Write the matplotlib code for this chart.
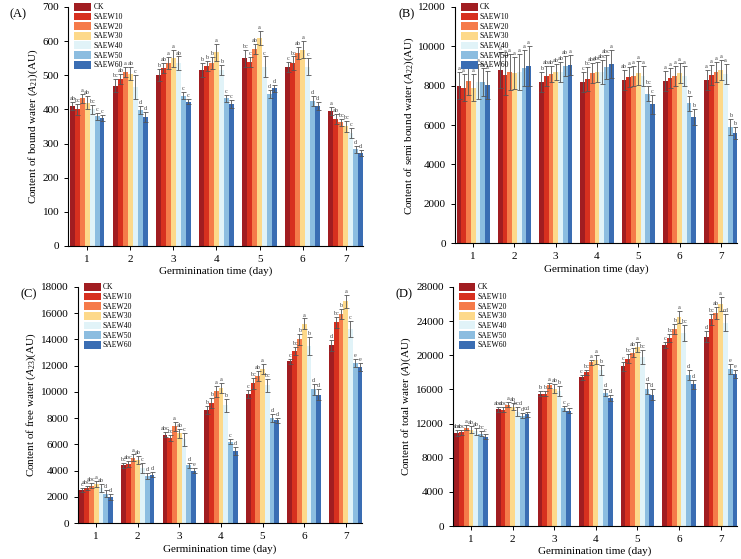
import numpy as np
import matplotlib.pyplot as plt

plt.rcParams['font.family'] = ['Liberation Serif', 'DejaVu Serif']
plt.rcParams['mathtext.fontset'] = 'custom'
plt.rcParams['mathtext.it'] = 'Liberation Serif:italic'
plt.rcParams['mathtext.rm'] = 'Liberation Serif'

days = ['1', '2', '3', '4', '5', '6', '7']
treatments = ['CK', 'SAEW10', 'SAEW20', 'SAEW30', 'SAEW40', 'SAEW50', 'SAEW60']
colors = ['#a11d21', '#d7301f', '#f57b4a', '#fdd98a', '#e1f3f8', '#8cbde0', '#3a6db3']

# rows = day, columns = treatment
bound = [[410, 400, 432, 420, 400, 380, 375],
         [470, 490, 510, 505, 465, 398, 378],
         [500, 522, 535, 550, 535, 440, 423],
         [515, 527, 535, 568, 515, 432, 415],
         [550, 538, 578, 610, 525, 445, 462],
         [525, 535, 565, 575, 525, 425, 410],
         [395, 373, 362, 350, 330, 283, 272]]
bound_err = [[12, 15, 12, 20, 12, 10, 8],
             [18, 15, 15, 20, 35, 12, 15],
             [18, 15, 18, 25, 20, 10, 8],
             [20, 15, 18, 25, 15, 10, 12],
             [25, 15, 15, 20, 30, 12, 10],
             [15, 20, 18, 25, 25, 15, 12],
             [12, 15, 10, 15, 15, 10, 8]]
bound_let = [['ab', 'bc', 'a', 'ab', 'bc', 'c', 'c'],
             ['bc', 'ab', 'a', 'ab', 'c', 'd', 'd'],
             ['b', 'ab', 'a', 'a', 'ab', 'c', 'c'],
             ['b', 'b', 'b', 'a', 'b', 'c', 'c'],
             ['bc', 'c', 'ab', 'a', 'c', 'd', 'd'],
             ['c', 'bc', 'ab', 'a', 'c', 'd', 'd'],
             ['a', 'ab', 'bc', 'bc', 'c', 'd', 'd']]

semi = [[8000, 7900, 8250, 7900, 8200, 8200, 8050],
        [8800, 8550, 8700, 8650, 8700, 8900, 9000],
        [8200, 8500, 8600, 8700, 8700, 9000, 9050],
        [8200, 8350, 8650, 8700, 8700, 8950, 9100],
        [8300, 8450, 8500, 8650, 8500, 7600, 7050],
        [8250, 8400, 8500, 8650, 8500, 7100, 6400],
        [8300, 8550, 8700, 8800, 8600, 5900, 5600]]
semi_err = [[700, 700, 700, 700, 900, 700, 700],
            [900, 1000, 900, 800, 900, 900, 1000],
            [500, 500, 400, 400, 500, 500, 500],
            [500, 600, 500, 500, 600, 600, 700],
            [500, 500, 500, 600, 500, 400, 500],
            [500, 500, 500, 500, 500, 400, 400],
            [500, 500, 500, 500, 500, 400, 300]]
semi_let = [['a', 'a', 'a', 'a', 'a', 'a', 'a'],
            ['a', 'a', 'a', 'a', 'a', 'a', 'a'],
            ['b', 'ab', 'ab', 'ab', 'ab', 'ab', 'a'],
            ['c', 'bc', 'abc', 'abc', 'abc', 'abc', 'a'],
            ['ab', 'a', 'a', 'a', 'a', 'bc', 'c'],
            ['a', 'a', 'a', 'a', 'a', 'b', 'b'],
            ['a', 'a', 'a', 'a', 'a', 'b', 'b']]

free = [[2550, 2700, 2850, 3000, 2700, 2250, 2000],
        [4400, 4500, 5000, 4800, 4200, 3600, 3700],
        [6750, 6500, 7400, 6850, 6400, 4400, 4000],
        [8650, 9150, 10050, 10300, 9000, 6200, 5500],
        [9850, 10650, 11200, 11750, 10500, 8050, 7850],
        [12350, 13100, 14000, 15200, 13500, 10200, 9800],
        [13550, 15300, 15950, 16900, 14800, 12200, 11900]]
free_err = [[150, 150, 200, 250, 300, 250, 200],
            [200, 250, 250, 300, 400, 200, 200],
            [200, 250, 350, 350, 500, 200, 200],
            [300, 400, 400, 400, 500, 200, 300],
            [300, 400, 400, 400, 500, 300, 200],
            [200, 300, 400, 400, 700, 400, 400],
            [400, 400, 400, 500, 600, 300, 300]]
free_let = [['c', 'abc', 'abc', 'a', 'ab', 'd', 'd'],
            ['bc', 'abc', 'a', 'ab', 'c', 'd', 'd'],
            ['abc', 'bc', 'a', 'ab', 'c', 'd', 'e'],
            ['b', 'b', 'a', 'a', 'b', 'c', 'd'],
            ['c', 'bc', 'ab', 'a', 'bc', 'd', 'd'],
            ['c', 'bc', 'b', 'a', 'b', 'd', 'd'],
            ['d', 'bc', 'b', 'a', 'c', 'e', 'e']]

total = [[10900, 11000, 11500, 11300, 11100, 10800, 10450],
         [13700, 13600, 14200, 14000, 13400, 12900, 13100],
         [15500, 15500, 16500, 16100, 15800, 13800, 13500],
         [17400, 18000, 19200, 19500, 18300, 15600, 15000],
         [18700, 19600, 20300, 21000, 19800, 16100, 15400],
         [21200, 22000, 23100, 24500, 22600, 17700, 16600],
         [22200, 24200, 25000, 26000, 23800, 18400, 17800]]
total_err = [[300, 300, 300, 400, 400, 300, 300],
             [300, 300, 300, 400, 500, 300, 300],
             [300, 300, 300, 500, 600, 300, 300],
             [300, 300, 300, 500, 600, 400, 300],
             [500, 500, 500, 600, 800, 600, 600],
             [400, 500, 600, 700, 900, 600, 500],
             [600, 600, 700, 800, 1000, 600, 500]]
total_let = [['abc', 'abc', 'a', 'ab', 'ab', 'bc', 'c'],
             ['abc', 'abc', 'a', 'ab', 'bcd', 'd', 'cd'],
             ['b', 'b', 'a', 'ab', 'b', 'c', 'c'],
             ['c', 'bc', 'a', 'a', 'b', 'd', 'd'],
             ['c', 'bc', 'ab', 'a', 'bc', 'd', 'd'],
             ['c', 'bc', 'b', 'a', 'bc', 'd', 'd'],
             ['d', 'bc', 'ab', 'a', 'cd', 'e', 'e']]

panels = [
    ('(A)', bound, bound_err, bound_let, 700, 100, 'Content of bound water ($\\mathit{A}_{21}$)(AU)', [0.092, 0.560, 0.398, 0.4275]),
    ('(B)', semi, semi_err, semi_let, 12000, 2000, 'Content of semi bound water ($\\mathit{A}_{22}$)(AU)', [0.614, 0.565, 0.381, 0.4225]),
    ('(C)', free, free_err, free_let, 18000, 2000, 'Content of free water ($\\mathit{A}_{23}$)(AU)', [0.105, 0.064, 0.384, 0.4226]),
    ('(D)', total, total_err, total_let, 28000, 4000, 'Content of total water ($\\mathit{A}$)(AU)', [0.611, 0.059, 0.384, 0.4276]),
]

fig = plt.figure(figsize=(7.41, 5.59), dpi=100)
x = np.arange(1, len(days) + 1)
w = 0.115

for tag, vals, errs, lets, ymax, ystep, ylab, pos in panels:
    ax = fig.add_axes(pos)
    vals = np.array(vals)
    errs = np.array(errs)
    for j, name in enumerate(treatments):
        xs = x + (j - 3) * w
        ax.bar(xs, vals[:, j], w, color=colors[j], label=name, zorder=2)
        ax.errorbar(xs, vals[:, j], yerr=errs[:, j], fmt='none', ecolor='#555555',
                    elinewidth=0.6, capsize=1.8, capthick=0.6, zorder=3)
        for i in range(len(days)):
            ax.text(xs[i], vals[i, j] + errs[i, j] + ymax * 0.004, lets[i][j],
                    ha='center', va='bottom', fontsize=4.5, color='#444444', zorder=4)
    ax.set_xlim(0.56, 7.4)
    ax.set_ylim(0, ymax)
    ax.set_yticks(np.arange(0, ymax + 1, ystep))
    ax.set_xticks(x)
    ax.set_xticklabels(days)
    ax.spines['top'].set_visible(False)
    ax.spines['right'].set_visible(False)
    ax.tick_params(labelsize=8, length=3, width=0.7)
    ax.set_xlabel('Germinination time (day)' if tag != '(B)' else 'Germination time (day)', fontsize=8, labelpad=2)
    ax.set_ylabel(ylab, fontsize=8, labelpad=2)
    ax.text(-0.2, 0.97, tag, transform=ax.transAxes, fontsize=9, ha='left', va='center')
    ax.legend(loc='upper left', bbox_to_anchor=(0.01, 1.03), frameon=False, fontsize=5.5,
              handlelength=2.2, handleheight=1.2, labelspacing=0.15, handletextpad=0.3,
              borderaxespad=0.0)

fig.savefig('out.png', dpi=100)
